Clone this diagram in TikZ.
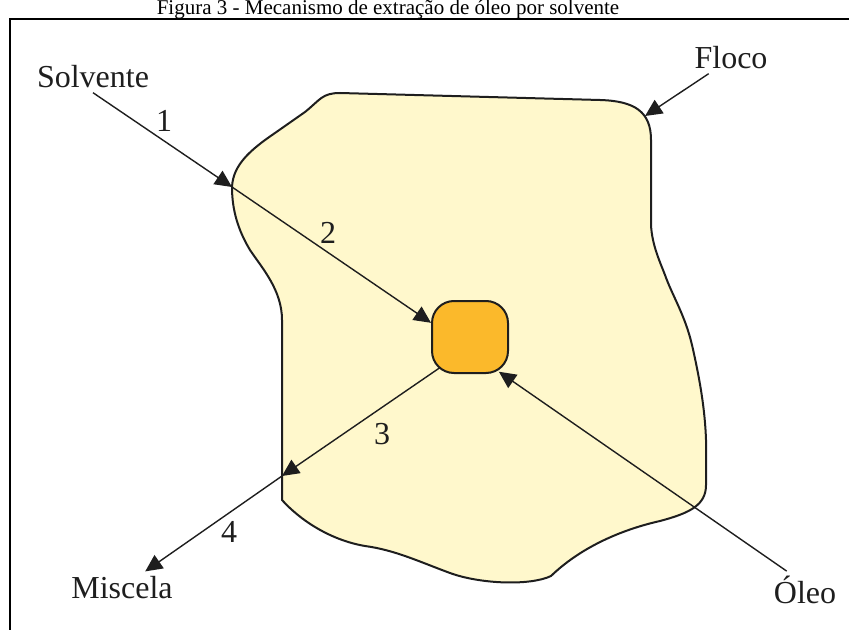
\documentclass[tikz,border=0pt]{standalone}
\usepackage{fontspec}
\setmainfont{Liberation Serif}
\usetikzlibrary{arrows.meta}

\definecolor{corFloco}{HTML}{FFF8CC}
\definecolor{corGota}{HTML}{FBB92B}
\definecolor{traco}{HTML}{1E1E1E}

\begin{document}
\begin{tikzpicture}[x=0.5pt,y=-0.5pt,
    seta/.style={draw=traco, line width=0.7pt, -{Triangle[length=8.5pt,width=8pt]}},
    rotulo/.style={font=\fontsize{16}{18}\selectfont, anchor=base, inner sep=2pt, text=traco}]
  \useasboundingbox (0,0) rectangle (849,630);
  \clip (0,0) rectangle (849,630);
  % title and frame
  \node[font=\fontsize{10.5}{12}\selectfont, anchor=base, inner sep=0pt] (titulo) at (388,15)
    {Figura 3 - Mecanismo de extração de óleo por solvente};
  \draw[line width=1pt] (10,660) |- (870,19);
  % flake
  \draw[fill=corFloco, draw=traco, line width=1pt]
    (232,187) .. controls (233,165) and (250,150) .. (275,133)
    -- (305,112)
    .. controls (320,100) and (322,93) .. (340,93)
    -- (600,100)
    .. controls (635,101) and (651,112) .. (651,140)
    -- (651,225)
    .. controls (652,245) and (660,262) .. (665,275)
    .. controls (672,295) and (685,315) .. (692,345)
    .. controls (700,380) and (705,410) .. (706,440)
    -- (706,485)
    .. controls (706,505) and (690,513) .. (660,521)
    .. controls (620,530) and (580,548) .. (551,576)
    .. controls (530,586) and (480,584) .. (450,573)
    .. controls (420,562) and (395,550) .. (365,546)
    .. controls (330,540) and (300,520) .. (282,500)
    -- (282,320)
    .. controls (282,290) and (262,268) .. (250,250)
    .. controls (238,230) and (232,210) .. cycle;
  % labels
  \node[rotulo] (solv) at (93,88) {Solvente};
  \node[rotulo] (floco) at (731,69) {Floco};
  \node[rotulo] (misc) at (122,598) {Miscela};
  \node[rotulo] (oleo) at (805,603) {Óleo};
  \node[rotulo] (n1) at (164,132) {1};
  \node[rotulo] (n2) at (328,243) {2};
  \node[rotulo] (n3) at (382,444) {3};
  \node[rotulo] (n4) at (229,542) {4};
  % points on the flake
  \coordinate (entrada) at (232,187);
  \coordinate (saida) at (282,476);
  \coordinate (canto) at (645,116);
  \coordinate (gotafundo) at (470,347);
  % miscela leaving the oil drop
  \draw[seta] (gotafundo) -- (saida);
  \draw[seta] (saida) -- (misc.34);
  % oil drop
  \node[draw=traco, line width=1pt, fill=corGota, rounded corners=11pt,
    minimum width=38pt, minimum height=36pt, inner sep=0pt] (gota) at (470,337) {};
  % solvent and oil arrows
  \draw[seta] (solv.south) -- (entrada);
  \draw[seta] (entrada) -- (gota.160);
  \draw[seta, shorten >=-2pt] (oleo.135) -- (gota.-49);
  \draw[seta] (floco.215) -- (canto);
\end{tikzpicture}
\end{document}
